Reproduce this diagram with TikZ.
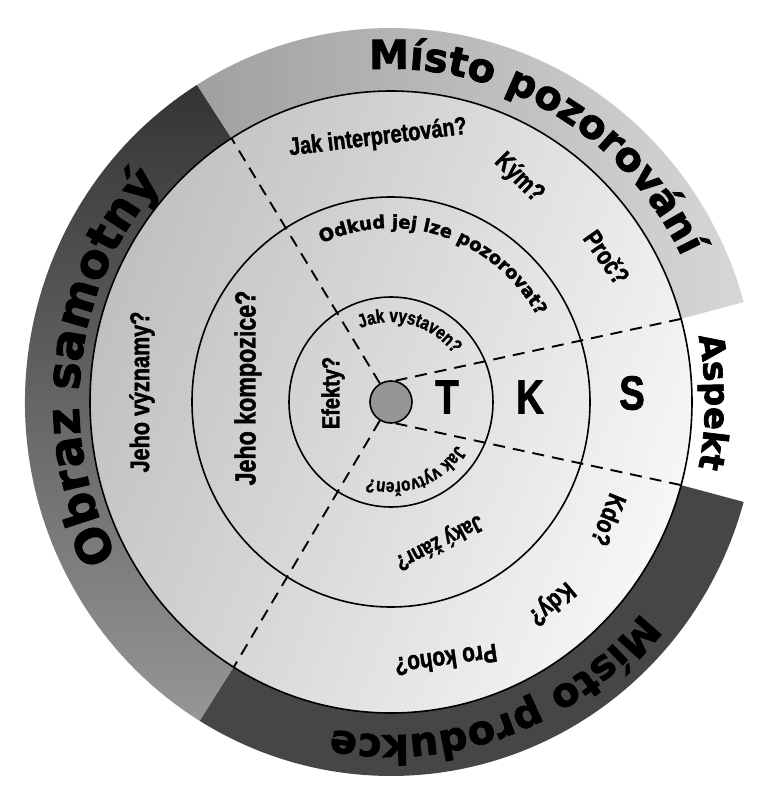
\documentclass[tikz,border=0pt]{standalone}
\usepackage{fontspec}
\usetikzlibrary{decorations.text,positioning,shadings}
\newfontfamily\bandfont[FakeBold=2]{DejaVu Sans Bold}
\newfontfamily\askfont[FakeStretch=0.8,FakeBold=1.6]{Liberation Sans Bold}
\definecolor{obrazdark}{RGB}{52,52,52}
\definecolor{obrazlight}{RGB}{150,150,150}
\definecolor{pozorleft}{RGB}{160,160,160}
\definecolor{pozorright}{RGB}{215,215,215}
\definecolor{produkce}{RGB}{70,70,70}
\definecolor{hubgray}{RGB}{150,150,150}
\tikzset{
  ring/.style={line width=1.6pt},
  spoke/.style={line width=1.9pt,dash pattern=on 12pt off 8pt},
  hub/.style={circle,draw,line width=1.6pt,fill=hubgray,minimum size=42pt,inner sep=0pt},
  ask/.style={font=\askfont\fontsize{25}{25}\selectfont,inner sep=0pt},
  tks/.style={font=\askfont\fontsize{48}{48}\selectfont,inner sep=0pt},
  arctext/.style={decorate,decoration={text along path,text align=center,text={#1}}}
}
\begin{document}
\begin{tikzpicture}[x=1pt,y=1pt]
\useasboundingbox (-391,-386) rectangle (373,402);
\fill[white] (-391,-386) rectangle (373,402);
\shade[upper left=black!28,upper right=black!8,lower left=black!20,lower right=white]
  (0,0) circle[x radius=301pt,y radius=311pt];
\shade[top color=obrazdark,bottom color=obrazlight]
  (122:366 and 374) arc[start angle=122,end angle=238.5,x radius=366pt,y radius=374pt]
  -- (238.5:301 and 311) arc[start angle=238.5,end angle=122,x radius=301pt,y radius=311pt] -- cycle;
\shade[left color=pozorleft,right color=pozorright]
  (15.5:366 and 374) arc[start angle=15.5,end angle=122,x radius=366pt,y radius=374pt]
  -- (122:301 and 311) arc[start angle=122,end angle=15.5,x radius=301pt,y radius=311pt] -- cycle;
\fill[produkce]
  (-121.5:366 and 374) arc[start angle=-121.5,end angle=-15.5,x radius=366pt,y radius=374pt]
  -- (-15.5:301 and 311) arc[start angle=-15.5,end angle=-121.5,x radius=301pt,y radius=311pt] -- cycle;
\foreach \rx/\ry in {301/311,199/205,102/105}
  \draw[ring] (0,0) circle[x radius=\rx pt,y radius=\ry pt];
\node[hub] (hub) at (0,0) {};
\coordinate (nw) at (122:301 and 311);
\coordinate (sw) at (238.5:301 and 311);
\coordinate (ne) at (15.5:301 and 311);
\coordinate (se) at (-15.5:301 and 311);
\draw[spoke] (hub.121) -- (nw);
\draw[spoke] (hub.239) -- (sw);
\draw[spoke] (hub.78) -- (ne);
\draw[spoke] (hub.-78) -- (se);
\path[arctext={|\bandfont\fontsize{40}{40}\selectfont|Místo pozorování}]
  (105:323 and 333) arc[start angle=105,end angle=15,x radius=323pt,y radius=333pt];
\path[arctext={|\bandfont\fontsize{47}{47}\selectfont|Obraz samotný}]
  (217:312 and 322) arc[start angle=217,end angle=129,x radius=312pt,y radius=322pt];
\path[arctext={|\bandfont\fontsize{40}{40}\selectfont|Místo produkce}]
  (-25:323 and 333) arc[start angle=-25,end angle=-115,x radius=323pt,y radius=333pt];
\path[arctext={|\bandfont\fontsize{34}{34}\selectfont|Aspekt}]
  (14:314 and 324) arc[start angle=14,end angle=-14,x radius=314pt,y radius=324pt];
\path[arctext={|\bandfont\fontsize{18}{18}\selectfont|Odkud jej lze pozorovat?}]
  (121:168 and 174) arc[start angle=121,end angle=23,x radius=168pt,y radius=174pt];
\path[arctext={|\askfont\fontsize{19}{19}\selectfont|Jak vystaven?}]
  (114:78 and 80) arc[start angle=114,end angle=36,x radius=78pt,y radius=80pt];
\path[arctext={|\askfont\fontsize{19}{19}\selectfont|Jak vytvořen?}]
  (-28:78 and 80) arc[start angle=-28,end angle=-112,x radius=78pt,y radius=80pt];
\node[ask,rotate=7] (interp) at (-13,264) {Jak interpretován?};
\node[ask,rotate=-45,font=\askfont\fontsize{26}{26}\selectfont] (kym) at (128,224) {Kým?};
\node[ask,rotate=-55,font=\askfont\fontsize{26}{26}\selectfont] (proc) at (216,145) {Proč?};
\node[ask,rotate=90,font=\askfont\fontsize{27}{27}\selectfont] (vyznamy) at (-249,10) {Jeho významy?};
\node[ask,rotate=90,font=\askfont\fontsize{29}{29}\selectfont] (kompozice) at (-143,14) {Jeho kompozice?};
\node[ask,rotate=90] (efekty) at (-58,9) {Efekty?};
\node[ask,rotate=207,font=\askfont\fontsize{23}{23}\selectfont] (zanr) at (48,-140) {Jaký žánr?};
\node[ask,rotate=248,font=\askfont\fontsize{26}{26}\selectfont] (kdo) at (218,-118) {Kdo?};
\node[ask,rotate=220,font=\askfont\fontsize{26}{26}\selectfont] (kdy) at (160,-201) {Kdy?};
\node[ask,rotate=188,font=\askfont\fontsize{26}{26}\selectfont] (prokoho) at (55,-258) {Pro koho?};
\node[tks] (t) at (56,5) {T};
\node[tks] (k) at (139,5) {K};
\node[tks] (s) at (241,9) {S};
\end{tikzpicture}
\end{document}
